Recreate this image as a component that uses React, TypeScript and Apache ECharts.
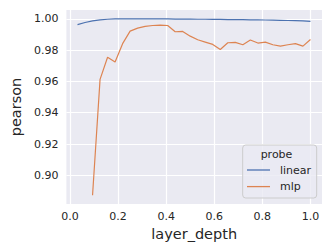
import React, { useEffect, useRef } from "react";
import * as echarts from "echarts";

const layerDepth: number[] = [
  1, 2, 3, 4, 5, 6, 7, 8, 9, 10, 11, 12, 13, 14, 15, 16,
  17, 18, 19, 20, 21, 22, 23, 24, 25, 26, 27, 28, 29, 30, 31, 32,
].map((k) => k / 32);

const linearValues: number[] = [
  0.9963, 0.9976, 0.9986, 0.9993, 0.9997, 0.9999, 0.9999, 0.9999,
  0.9999, 0.9999, 0.9999, 0.9999, 0.9999, 0.9998, 0.9998, 0.9998,
  0.9997, 0.9997, 0.9996, 0.9996, 0.9995, 0.9995, 0.9994, 0.9993,
  0.9993, 0.9992, 0.9991, 0.999, 0.9989, 0.9988, 0.9987, 0.9983,
];

const mlpValues: (number | null)[] = [
  null, null, 0.8873, 0.9613, 0.9754, 0.9724, 0.9841, 0.9921,
  0.994, 0.9951, 0.9957, 0.9959, 0.9957, 0.9917, 0.9919, 0.9889,
  0.9866, 0.9851, 0.9836, 0.9804, 0.9847, 0.9849, 0.9834, 0.9864,
  0.9845, 0.9851, 0.9834, 0.9825, 0.9834, 0.9841, 0.9825, 0.9868,
];

const xTicks: number[] = [0, 0.2, 0.4, 0.6, 0.8, 1.0];
const yTicks: number[] = [0.9, 0.92, 0.94, 0.96, 0.98, 1.0];
const seriesNames: string[] = ["linear", "mlp"];

const TEXT = "#262626";
const FONT = "DejaVu Sans";

export default function App() {
  const ref = useRef<HTMLDivElement>(null);
  useEffect(() => {
    document.body.style.margin = "0";
    const chart = echarts.init(ref.current!, null, { renderer: "svg" });
    const toPairs = (vals: (number | null)[]) =>
      layerDepth
        .map((x, i) => [x, vals[i]])
        .filter((p) => p[1] !== null);
    chart.setOption({
      animation: false,
      textStyle: { fontFamily: FONT },
      grid: {
        left: 60,
        top: 10,
        right: 10,
        bottom: 45,
        show: true,
        backgroundColor: "#EAEAF2",
        borderWidth: 0,
      },
      xAxis: {
        type: "value",
        min: -0.015,
        max: 1.048,
        name: "layer_depth",
        nameLocation: "middle",
        nameGap: 16,
        nameTextStyle: { fontSize: 14.5, color: TEXT, fontFamily: FONT },
        axisLine: { show: false },
        axisTick: { show: false, customValues: xTicks },
        axisLabel: {
          customValues: xTicks,
          formatter: (v: number) => v.toFixed(1),
          fontSize: 11,
          color: TEXT,
          fontFamily: FONT,
          margin: 7,
        },
        splitLine: { show: true, lineStyle: { color: "#FFFFFF", width: 1.2 } },
      },
      yAxis: {
        type: "value",
        min: 0.8817,
        max: 1.0056,
        name: "pearson",
        nameLocation: "middle",
        nameGap: 34,
        nameTextStyle: { fontSize: 14.5, color: TEXT, fontFamily: FONT },
        axisLine: { show: false },
        axisTick: { show: false, customValues: yTicks },
        axisLabel: {
          customValues: yTicks,
          formatter: (v: number) => v.toFixed(2),
          fontSize: 11,
          color: TEXT,
          fontFamily: FONT,
          margin: 8,
        },
        splitLine: { show: true, lineStyle: { color: "#FFFFFF", width: 1.2 } },
      },
      legend: {
        orient: "vertical",
        left: 247,
        top: 163,
        icon: "rect",
        itemWidth: 23,
        itemHeight: 1.3,
        itemGap: 2.6,
        padding: 0,
        z: 5,
        data: seriesNames,
        textStyle: {
          fontSize: 11,
          color: TEXT,
          fontFamily: FONT,
          lineHeight: 14,
          padding: [0, 0, 0, 5],
        },
      },
      graphic: [
        {
          type: "rect",
          z: 3,
          shape: { x: 242.7, y: 145, width: 74, height: 53, r: 3 },
          style: { fill: "rgba(234,234,242,0.8)", stroke: "#CCCCCC", lineWidth: 1 },
        },
        {
          type: "text",
          z: 5,
          x: 276.5,
          y: 154.5,
          style: {
            text: "probe",
            fill: TEXT,
            font: `11px ${FONT}`,
            textAlign: "center",
            textVerticalAlign: "middle",
          },
        },
      ],
      series: [
        {
          name: seriesNames[0],
          type: "line",
          data: toPairs(linearValues),
          symbol: "none",
          showSymbol: false,
          lineStyle: { color: "#4C72B0", width: 1.2 },
          itemStyle: { color: "#4C72B0" },
        },
        {
          name: seriesNames[1],
          type: "line",
          data: toPairs(mlpValues),
          symbol: "none",
          showSymbol: false,
          lineStyle: { color: "#DD8452", width: 1.2 },
          itemStyle: { color: "#DD8452" },
        },
      ],
    });
    return () => chart.dispose();
  }, []);
  return <div ref={ref} style={{ width: 332, height: 249 }} />;
}
